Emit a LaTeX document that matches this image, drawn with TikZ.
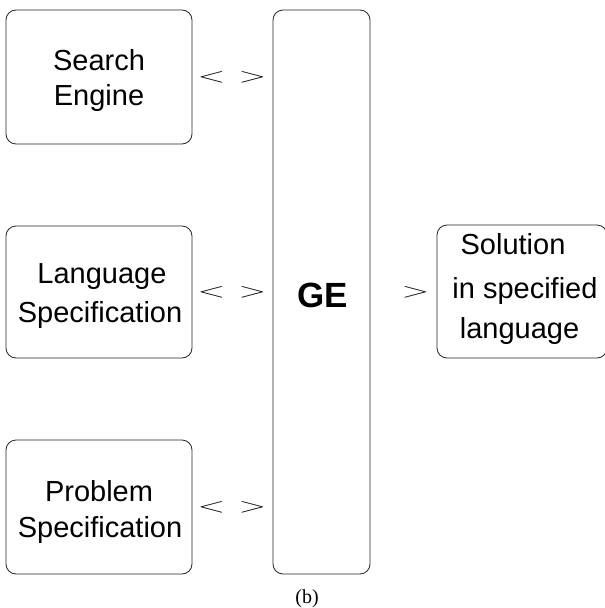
\documentclass[tikz,border=0pt]{standalone}
\usepackage{fontspec}
\usepackage{graphicx}
\setmainfont{Liberation Sans}
\newfontfamily\captionserif{Liberation Serif}
\newcommand{\flatlt}{\scalebox{1.75}[1]{$<$}}
\newcommand{\flatgt}{\scalebox{1.75}[1]{$>$}}
\begin{document}
\begin{tikzpicture}[x=1pt,y=-1pt,
  box/.style={draw=black!85, line width=0.8pt, rounded corners=10pt, inner sep=0pt, minimum width=#1},
  txt/.style={anchor=base, inner sep=0pt, font=\fontsize{29}{35}\selectfont},
  rel/.style={inner sep=0pt, font=\fontsize{20.7}{25}\selectfont}]
\useasboundingbox (0,0) rectangle (605,608);
% boxes
\node[box=186pt, minimum height=134pt] (search) at (99,77) {};
\node[box=186pt, minimum height=132pt] (lang) at (99,292) {};
\node[box=186pt, minimum height=134pt] (prob) at (99,507) {};
\node[box=97pt, minimum height=564pt] (ge) at (321.5,292) {};
\node[box=170pt, minimum height=133pt] (sol) at (522,291.5) {};
% texts
\node[txt] (t1) at (99,70) {Search};
\node[txt] (t2) at (99,105) {Engine};
\node[txt] (t3) at (102,283) {Language};
\node[txt] (t4) at (100,322) {Specification};
\node[txt] (t5) at (99,501) {Problem};
\node[txt] (t6) at (100,537) {Specification};
\node[anchor=base, inner sep=0pt, font=\fontsize{35}{40}\selectfont\bfseries] (tge) at (322.5,307) {GE};
\node[txt] (s1) at (513,254) {Solution};
\node[txt] (s2) at (525,298.5) {in specified};
\node[txt] (s3) at (519.5,338) {language};
% relation symbols
\node[rel] (r1) at (232,77) {\flatlt\hspace{13.3pt}\flatgt};
\node[rel] (r2) at (232,292) {\flatlt\hspace{13.3pt}\flatgt};
\node[rel] (r3) at (232,507) {\flatlt\hspace{13.3pt}\flatgt};
\node[rel] (r4) at (415.5,292) {\flatgt};
% caption
\node[anchor=base, inner sep=0pt, font=\captionserif\fontsize{20}{24}\selectfont] (cap) at (307,603) {(b)};
\end{tikzpicture}
\end{document}
